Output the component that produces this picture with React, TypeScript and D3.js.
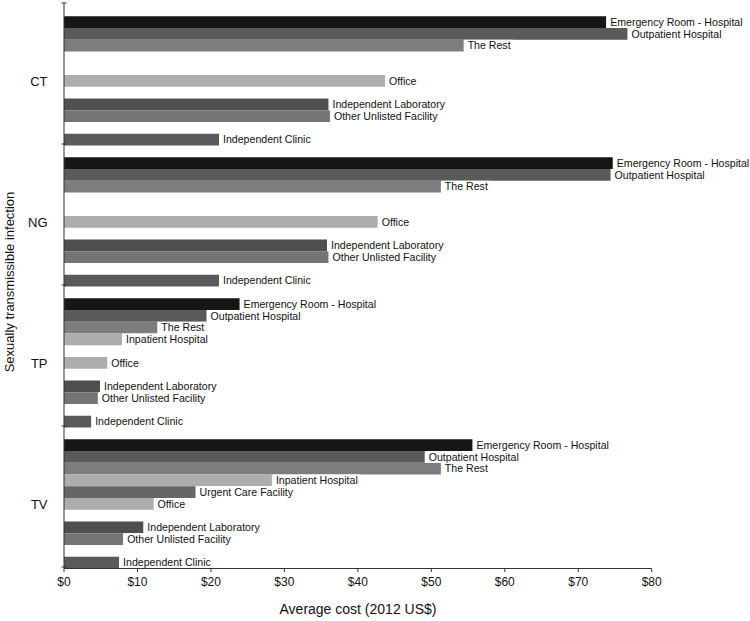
import React from 'react';
import * as d3 from 'd3';

const infections = ['CT', 'NG', 'TP', 'TV'];
const facilities = [
  'Emergency Room - Hospital',
  'Outpatient Hospital',
  'The Rest',
  'Inpatient Hospital',
  'Urgent Care Facility',
  'Office',
  'Independent Laboratory',
  'Other Unlisted Facility',
  'Independent Clinic',
];
// slot order within each infection group (gaps are empty rows)
const slotOrder = [
  'gap-top',
  'Emergency Room - Hospital',
  'Outpatient Hospital',
  'The Rest',
  'Inpatient Hospital',
  'Urgent Care Facility',
  'Office',
  'gap-mid',
  'Independent Laboratory',
  'Other Unlisted Facility',
  'gap-low',
  'Independent Clinic',
];
const ctCosts = [73.8, 76.7, 54.4, null, null, 43.7, 36.0, 36.2, 21.1];
const ngCosts = [74.7, 74.4, 51.3, null, null, 42.7, 35.8, 36.0, 21.1];
const tpCosts = [23.9, 19.4, 12.7, 7.9, null, 5.9, 4.9, 4.6, 3.7];
const tvCosts = [55.6, 49.1, 51.3, 28.3, 17.9, 12.2, 10.8, 8.05, 7.5];
const costs = [ctCosts, ngCosts, tpCosts, tvCosts];
const facilityColors = ['#161616', '#5a5a5a', '#7d7d7d', '#adadad', '#666666', '#adadad', '#4f4f4f', '#747474', '#5a5a5a'];
const xTicks = [0, 10, 20, 30, 40, 50, 60, 70, 80];

const W = 750;
const H = 621;
const FONT = '"Liberation Sans", Arial, Helvetica, sans-serif';
const LABEL_SIZE = 10.6;

let ctx: CanvasRenderingContext2D | null = null;
function textWidth(s: string, size: number) {
  if (!ctx) {
    const c = document.createElement('canvas');
    ctx = c.getContext('2d');
  }
  if (!ctx) return s.length * size * 0.5;
  ctx.font = `${size}px "Liberation Sans", Arial, sans-serif`;
  return ctx.measureText(s).width;
}

export default function App() {
  const x = d3.scaleLinear().domain([0, 80]).range([64, 651.7]);
  const keys: string[] = [];
  infections.forEach((inf) => slotOrder.forEach((s) => keys.push(`${inf}|${s}`)));
  const y = d3.scaleBand<string>().domain(keys).range([4.5, 568.5]).paddingInner(0).paddingOuter(0);
  const bw = y.bandwidth();
  const axisBottom = 568.5;

  const bars: { inf: string; fac: string; v: number; color: string; key: string }[] = [];
  infections.forEach((inf, gi) => {
    facilities.forEach((fac, fi) => {
      const v = costs[gi][fi];
      if (v == null) return;
      bars.push({ inf, fac, v, color: facilityColors[fi], key: `${inf}|${fac}` });
    });
  });

  const groupTicks = infections.map((inf) => (y(`${inf}|gap-top`) as number) - 1.5);
  groupTicks.push(axisBottom - 1.5);

  return (
    <svg width={W} height={H} style={{ position: 'absolute', left: 0, top: 0, background: '#fff' }} fontFamily={FONT}>
      <rect x={0} y={0} width={W} height={H} fill="#fff" />
      {bars.map((b) => (
        <rect key={b.key} x={x(0)} y={y(b.key)} width={x(b.v) - x(0)} height={bw} fill={b.color} />
      ))}
      {bars.map((b) => {
        const tw = textWidth(b.fac, LABEL_SIZE);
        const bx = x(b.v);
        const by = y(b.key) as number;
        return (
          <g key={'l' + b.key}>
            <rect x={bx + 0.5} y={by} width={tw + 6} height={bw} fill="#fff" />
            <text x={bx + 4} y={by + bw / 2} dy="0.36em" fontSize={LABEL_SIZE} fill="#111">
              {b.fac}
            </text>
          </g>
        );
      })}
      {/* y axis */}
      <line x1={64} x2={64} y1={groupTicks[0]} y2={axisBottom} stroke="#333" strokeWidth={1} />
      {groupTicks.map((t, i) => (
        <line key={'yt' + i} x1={61.5} x2={66.5} y1={t} y2={t} stroke="#333" strokeWidth={1} />
      ))}
      {infections.map((inf) => (
        <text key={'g' + inf} x={47.5} y={(y(`${inf}|Office`) as number) + bw / 2} dy="0.36em" fontSize={13} textAnchor="end" fill="#111">
          {inf}
        </text>
      ))}
      {/* x axis */}
      <line x1={64} x2={x(80)} y1={axisBottom} y2={axisBottom} stroke="#333" strokeWidth={1} />
      {xTicks.map((t) => (
        <g key={'xt' + t}>
          <line x1={x(t)} x2={x(t)} y1={axisBottom} y2={axisBottom + 3.5} stroke="#333" strokeWidth={1} />
          <text x={x(t)} y={586} fontSize={12} textAnchor="middle" fill="#111">
            {d3.format('$,.0f')(t)}
          </text>
        </g>
      ))}
      <text x={358} y={614} fontSize={14} textAnchor="middle" fill="#111">
        Average cost (2012 US$)
      </text>
      <text transform="translate(14,282) rotate(-90)" fontSize={13} textAnchor="middle" fill="#111">
        Sexually transmissible infection
      </text>
    </svg>
  );
}
